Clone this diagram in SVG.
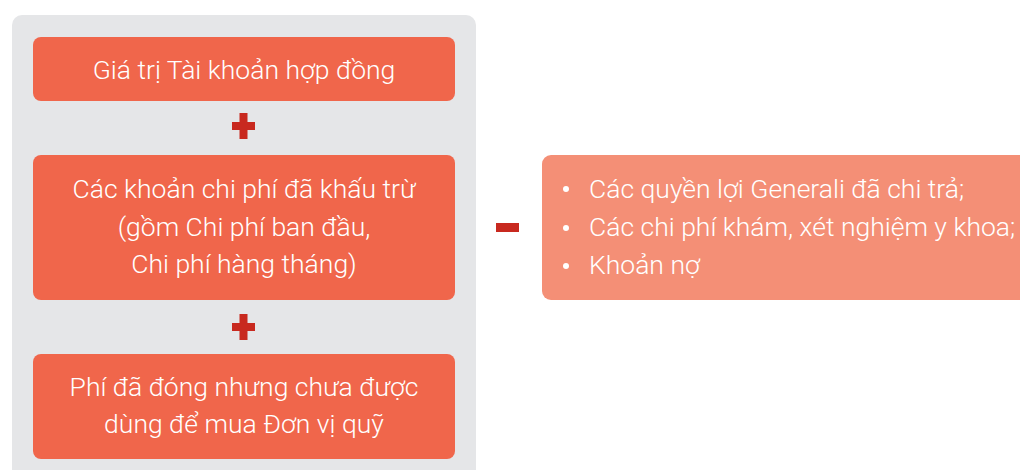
<svg xmlns="http://www.w3.org/2000/svg" width="1020" height="470" viewBox="0 0 1020 470">
<style>
.box{fill:#F0664B}
.rbox{fill:#F48F76}
.sign{fill:#C8291F}
.t{font-family:Roboto,"Liberation Sans",sans-serif;font-weight:300;font-size:26.5px;fill:#FFFFFF}
.c{text-anchor:middle}
.dot{fill:#FFFFFF}
</style>
<rect x="12" y="15" width="464" height="470" rx="10" fill="#E5E6E8"/>
<g id="connectors">
<g id="plus1"><rect x="239.5" y="113" width="8" height="26" class="sign"/><rect x="232" y="122" width="23" height="8" class="sign"/></g>
<g id="plus2"><rect x="239.5" y="314" width="8" height="26" class="sign"/><rect x="232" y="323" width="23" height="8" class="sign"/></g>
<g id="minus"><rect x="496" y="223" width="23" height="9" class="sign"/></g>
</g>
<g id="node1">
<rect x="33" y="37" width="422" height="64" rx="8" class="box"/>
<text x="244" y="79" class="t c">Giá trị Tài khoản hợp đồng</text>
</g>
<g id="node2">
<rect x="33" y="155" width="422" height="145" rx="8" class="box"/>
<text x="244" y="198" class="t c">Các khoản chi phí đã khấu trừ</text>
<text x="244" y="236" class="t c">(gồm Chi phí ban đầu,</text>
<text x="244" y="273" class="t c">Chi phí hàng tháng)</text>
</g>
<g id="node3">
<rect x="33" y="354" width="422" height="105" rx="8" class="box"/>
<text x="244" y="396" class="t c">Phí đã đóng nhưng chưa được</text>
<text x="244" y="433" class="t c">dùng để mua Đơn vị quỹ</text>
</g>
<g id="node4">
<rect x="542" y="155" width="500" height="145" rx="9" class="rbox"/>
<circle cx="566" cy="189" r="3" class="dot"/>
<circle cx="566" cy="228" r="3" class="dot"/>
<circle cx="566" cy="266" r="3" class="dot"/>
<text x="589" y="198" class="t">Các quyền lợi Generali đã chi trả;</text>
<text x="589" y="236" class="t">Các chi phí khám, xét nghiệm y khoa;</text>
<text x="589" y="274" class="t">Khoản nợ</text>
</g>
</svg>
